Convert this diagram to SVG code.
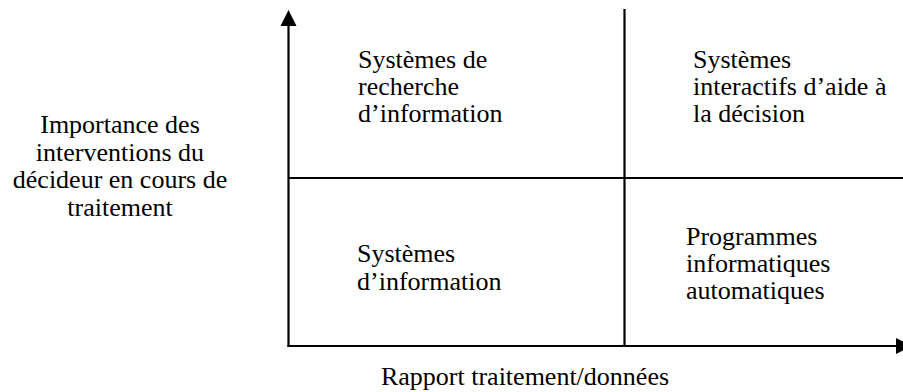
<svg xmlns="http://www.w3.org/2000/svg" width="903" height="392" viewBox="0 0 903 392">
<style>
text { font-family: "Liberation Serif", "Times New Roman", serif; font-size: 26px; fill: #000; }
.ln { stroke: #000; stroke-width: 2.2; fill: none; }
.c { text-anchor: middle; }
</style>
<rect width="903" height="392" fill="#fff"/>
<g id="connectors">
<line class="ln" x1="288.5" y1="24" x2="288.5" y2="347"/>
<polygon points="288.5,10 280.5,26 296.5,26" fill="#000"/>
<line class="ln" x1="287.5" y1="346" x2="898" y2="346"/>
<polygon points="896,338 896,354 912,346" fill="#000"/>
<line class="ln" x1="624.5" y1="9" x2="624.5" y2="346"/>
<line class="ln" x1="288.5" y1="178" x2="903" y2="178"/>
</g>
<g id="q1">
<text x="358" y="68">Systèmes de</text>
<text x="358" y="95">recherche</text>
<text x="358" y="122">d’information</text>
</g>
<g id="q2">
<text x="693" y="68">Systèmes</text>
<text x="693" y="95">interactifs d’aide à</text>
<text x="693" y="122">la décision</text>
</g>
<g id="q3">
<text x="357" y="262">Systèmes</text>
<text x="357" y="290">d’information</text>
</g>
<g id="q4">
<text x="686" y="245">Programmes</text>
<text x="686" y="272">informatiques</text>
<text x="686" y="299">automatiques</text>
</g>
<g id="ylabel">
<text class="c" x="120" y="133">Importance des</text>
<text class="c" x="120" y="161">interventions du</text>
<text class="c" x="120" y="188">décideur en cours de</text>
<text class="c" x="120" y="216">traitement</text>
</g>
<g id="xlabel">
<text class="c" x="525" y="385">Rapport traitement/données</text>
</g>
</svg>
